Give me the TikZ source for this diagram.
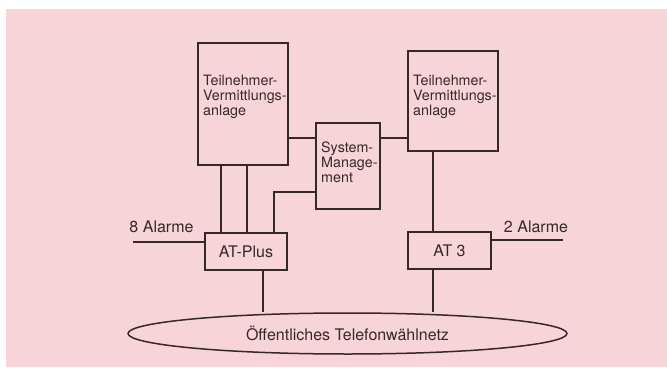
\documentclass[tikz,border=0pt]{standalone}
\usepackage{fontspec}
\setmainfont{TeX Gyre Heros}
\usetikzlibrary{shapes.geometric}
\definecolor{paper}{RGB}{247,212,215}
\definecolor{ink}{RGB}{55,40,40}
\tikzset{
    box/.style={draw=ink, line width=1.5pt, rectangle, inner sep=0pt, text=ink,
	font=\fontsize{16}{18}\selectfont},
    txt/.style={anchor=west, align=left, inner sep=0pt, text=ink,
	font=\fontsize{14.3}{15.2}\selectfont},
    lbl/.style={inner sep=0pt, text=ink, font=\fontsize{16}{18}\selectfont},
    wire/.style={draw=ink, line width=1.3pt}
}

\begin{document}
\begin{tikzpicture}[x=1pt, y=-1pt]
    \useasboundingbox (0, 0) rectangle (667, 367);
    \fill[white] (0, 0) rectangle (667, 367);
    \fill[paper] (6, 9) rectangle (667, 367);
    \node[box, minimum width=90, minimum height=122] (tvaL) at (243, 104) {};
    \node[txt] (tvaLtext) at (203, 97) {Teilnehmer-\\Vermittlungs-\\anlage};
    \node[box, minimum width=90, minimum height=100] (tvaR) at (453, 101) {};
    \node[txt] (tvaRtext) at (413, 97) {Teilnehmer-\\Vermittlungs-\\anlage};
    \node[box, minimum width=64, minimum height=86] (sm) at (348, 166) {};
    \node[txt] (smtext) at (321, 162) {System-\\Manage-\\ment};
    \node[box, minimum width=82, minimum height=37] (atp) at (246, 251.5) {AT-Plus};
    \node[box, minimum width=83, minimum height=37] (at3) at (449.5, 250.5) {AT 3};
    \node[box, ellipse, minimum width=439, minimum height=41] (net)
	at (347.5, 333.5) {Öffentliches Telefonwählnetz};
    \node[lbl] (al8) at (161.5, 227) {8 Alarme};
    \node[lbl] (al2) at (536, 227) {2 Alarme};
    \coordinate (end8) at (133, 242);
    \coordinate (end2) at (563, 240);
    \draw[wire] (tvaL.east |- 0, 138) -- (sm.west |- 0, 138);
    \draw[wire] (sm.east |- 0, 138) -- (tvaR.west |- 0, 138);
    \draw[wire] (tvaL.south -| 221, 0) -- (atp.north -| 221, 0);
    \draw[wire] (tvaL.south -| 247, 0) -- (atp.north -| 247, 0);
    \draw[wire] (sm.west |- 0, 192) -| (atp.north -| 274, 0);
    \draw[wire] (tvaR.south -| 433, 0) -- (at3.north -| 433, 0);
    \draw[wire] (atp.west |- end8) -- (end8);
    \draw[wire] (at3.east |- end2) -- (end2);
    \draw[wire] (atp.south -| 263, 0) -- (net.north -| 263, 0);
    \draw[wire] (at3.south -| 433, 0) -- (net.north -| 433, 0);
\end{tikzpicture}
\end{document}
